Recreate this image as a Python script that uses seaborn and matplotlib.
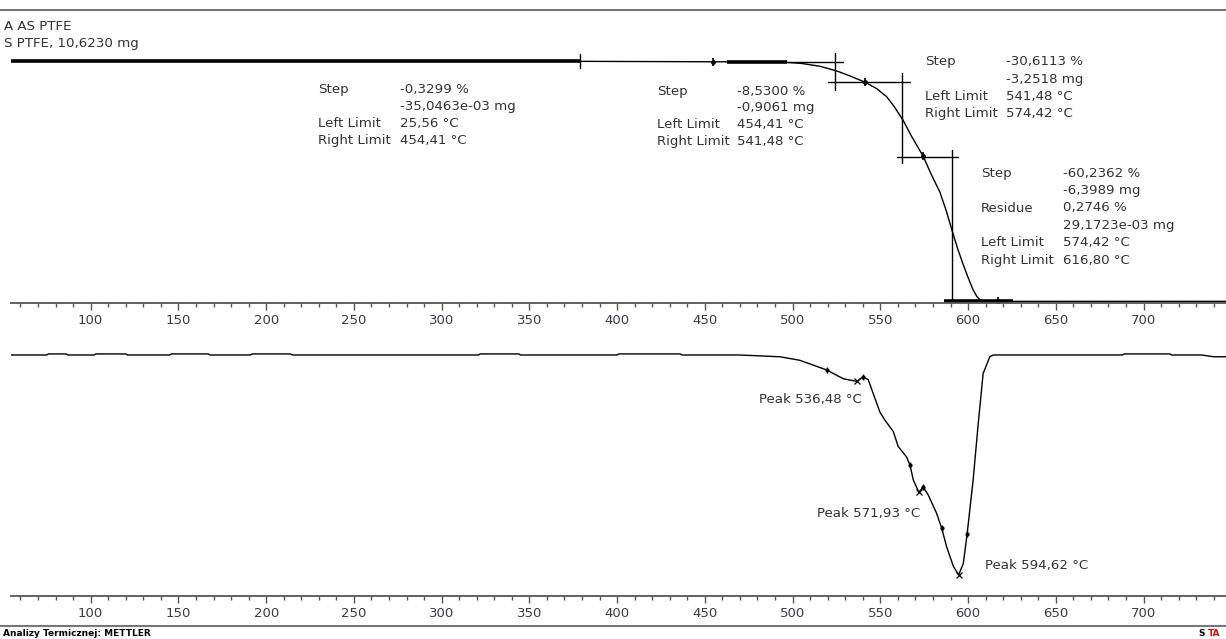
import numpy as np
import pandas as pd
import seaborn as sns
import matplotlib
matplotlib.use("Agg")
import matplotlib.pyplot as plt
from matplotlib.ticker import MultipleLocator

# ---------------- data ----------------
# TGA curve (temperature in degC, mass in %)
tga_temp = [54.6, 150, 250, 378.9, 454.4, 480, 497, 505, 515.6, 525, 532, 541.5, 548,
            553.7, 558, 562.9, 568, 574.4, 579, 584, 587.5, 590.8, 594, 597.1, 600,
            602.8, 605, 606.8, 610, 616.8, 680, 747]
tga_mass = [100.0, 99.95, 99.9, 99.85, 99.67, 99.6, 99.4, 99.0, 97.8, 95.9, 94.0, 91.14, 88.5,
            85.1, 81.0, 75.5, 68.5, 60.51, 53.0, 45.5, 38.0, 29.9, 22.3, 15.8, 10.2,
            5.2, 2.3, 0.9, 0.4, 0.27, 0.27, 0.27]

# DTG curve (temperature in degC, arbitrary derivative units)
dtg_temp = [54.6, 75, 76, 86, 87, 102, 103, 120, 121, 145, 146, 167, 168, 191, 192, 214, 215,
            321, 322, 344, 345, 400, 401, 436, 437, 469.9, 492.7, 504.1, 519.4, 528.9,
            536.48, 540.3, 543.1, 546.0, 549.8, 552.6, 557.4, 560.2, 565.0, 566.9, 568.8,
            571.93, 574.5, 577.3, 582.1, 585.0, 587.8, 591.6, 594.62, 597.3, 599.5, 602.9,
            605.8, 608.6, 612.4, 614.3, 688, 689, 715, 716, 733, 740, 747]
dtg_val = [0.0, 0.0, 0.012, 0.012, 0.0, 0.0, 0.012, 0.012, 0.0, 0.0, 0.012, 0.012, 0.0, 0.0,
           0.012, 0.012, 0.0, 0.0, 0.012, 0.012, 0.0, 0.0, 0.012, 0.012, 0.0, 0.0, -0.02,
           -0.06, -0.17, -0.27, -0.30, -0.25, -0.28, -0.44, -0.65, -0.74, -0.87, -1.04, -1.16,
           -1.25, -1.42, -1.56, -1.50, -1.59, -1.80, -1.97, -2.18, -2.40, -2.50, -2.37, -2.03,
           -1.42, -0.78, -0.21, -0.02, 0.0, 0.0, 0.012, 0.012, 0.0, 0.0, -0.02, -0.02]

# TGA step evaluation markers
step_temp = [454.41, 541.48, 574.42, 616.80]
step_mass = [99.67, 91.14, 60.51, 0.27]

# DTG peaks and integration markers
peak_temp = [536.48, 571.93, 594.62]
peak_val = [-0.30, -1.56, -2.50]
peak_labels = ["Peak 536,48 \u00b0C", "Peak 571,93 \u00b0C", "Peak 594,62 \u00b0C"]
limit_temp = [519.4, 540.3, 566.9, 574.5, 585.0, 599.5]
limit_val = [-0.17, -0.25, -1.25, -1.50, -1.97, -2.03]

# tangent construction segments on TGA: (x0, x1, y0, y1)
thick_segments = [(54.6, 378.9, 100.0, 100.0), (462.6, 496.8, 99.7, 99.7),
                  (586.3, 625.6, 0.3, 0.3)]
thin_segments = [(496.8, 528.7, 99.7, 99.7), (378.9, 378.9, 97.1, 102.9),
                 (524.2, 524.2, 88.0, 103.3), (520.2, 566.9, 91.3, 91.3),
                 (562.3, 562.3, 57.7, 95.0), (559.5, 594.3, 60.2, 60.2),
                 (590.9, 590.9, -0.4, 63.0)]

# step result texts
step_blocks = [
    [("Step", "-0,3299 %"), ("", "-35,0463e-03 mg"), ("Left Limit", "25,56 \u00b0C"),
     ("Right Limit", "454,41 \u00b0C")],
    [("Step", "-8,5300 %"), ("", "-0,9061 mg"), ("Left Limit", "454,41 \u00b0C"),
     ("Right Limit", "541,48 \u00b0C")],
    [("Step", "-30,6113 %"), ("", "-3,2518 mg"), ("Left Limit", "541,48 \u00b0C"),
     ("Right Limit", "574,42 \u00b0C")],
    [("Step", "-60,2362 %"), ("", "-6,3989 mg"), ("Residue", "0,2746 %"),
     ("", "29,1723e-03 mg"), ("Left Limit", "574,42 \u00b0C"), ("Right Limit", "616,80 \u00b0C")],
]

title_lines = ["A AS PTFE", "S PTFE, 10,6230 mg"]
footer_left = "Analizy Termicznej: METTLER"

# ---------------- figure ----------------
sns.set_theme(style="white")
plt.rcParams['font.family'] = ['DejaVu Sans']

W, H = 1226, 639
fig = plt.figure(figsize=(W / 100, H / 100), dpi=100)

def fy(py):
    return 1 - py / H

def fx(px):
    return px / W

XMIN, XMAX = 54.6, 747.0
AXC = "#555555"
TXT = "#333333"
FS = 9.6

# TGA axes: bottom at y=303 px, top at y=20 px
ax1 = fig.add_axes([fx(11), fy(303), 1 - fx(11), (303 - 20) / H])
# DTG axes: bottom at y=596 px, top at y=330 px
ax2 = fig.add_axes([fx(11), fy(596), 1 - fx(11), (596 - 330) / H])

for ax in (ax1, ax2):
    ax.set_facecolor("none")
    ax.set_xlim(XMIN, XMAX)
    for s in ("top", "left", "right"):
        ax.spines[s].set_visible(False)
    ax.spines["bottom"].set_color(AXC)
    ax.spines["bottom"].set_linewidth(1.3)
    ax.xaxis.set_major_locator(MultipleLocator(50))
    ax.xaxis.set_minor_locator(MultipleLocator(10))
    ax.tick_params(axis="x", which="major", direction="out", length=5, width=1,
                   color=AXC, labelsize=9.5, labelcolor="#3a3a4a", pad=3, bottom=True)
    ax.tick_params(axis="x", which="minor", direction="out", length=3, width=1,
                   color=AXC, bottom=True)
    ax.set_yticks([])

ax1.set_ylim(-0.41, 117.0)
ax2.set_ylim(-2.739, 0.284)

tga_df = pd.DataFrame({"T": tga_temp, "m": tga_mass})
dtg_df = pd.DataFrame({"T": dtg_temp, "d": dtg_val})

sns.lineplot(data=tga_df, x="T", y="m", ax=ax1, color="black", lw=1.0, sort=False)
sns.lineplot(data=dtg_df, x="T", y="d", ax=ax2, color="black", lw=1.0, sort=False)
for ax in (ax1, ax2):
    ax.set_xlabel("")
    ax.set_ylabel("")

for x0, x1, y0, y1 in thick_segments:
    ax1.plot([x0, x1], [y0, y1], color="black", lw=2.6, solid_capstyle="butt")
for x0, x1, y0, y1 in thin_segments:
    ax1.plot([x0, x1], [y0, y1], color="black", lw=1.0)

ax1.plot(step_temp, step_mass, ls="none", marker="|", ms=6, mew=1.2, color="black")
ax1.plot(step_temp, step_mass, ls="none", marker="o", ms=2.5, color="black")

ax2.plot(peak_temp, peak_val, ls="none", marker="x", ms=4, mew=0.9, color="black")
ax2.plot(limit_temp, limit_val, ls="none", marker="|", ms=5, mew=1.0, color="black")
ax2.plot(limit_temp, limit_val, ls="none", marker="o", ms=2, color="black")

# step texts (pixel positions of label col, value col, first-line y, line step)
block_pos = [(318, 400, 90, 16.8), (657, 737, 91, 16.8), (925, 1006, 62, 17.3),
             (981, 1063, 173, 17.5)]
for block, (lx, vx, y0, dy) in zip(step_blocks, block_pos):
    for i, (lab, val) in enumerate(block):
        y = y0 + i * dy
        if lab:
            fig.text(fx(lx), fy(y), lab, fontsize=FS, color=TXT, va="center", ha="left")
        fig.text(fx(vx), fy(y), val, fontsize=FS, color=TXT, va="center", ha="left")

# peak labels
peak_pos = [(862, 399, "right"), (920, 514, "right"), (985, 566, "left")]
for lab, (px, py, ha) in zip(peak_labels, peak_pos):
    fig.text(fx(px), fy(py), lab, fontsize=FS, color=TXT, va="center", ha=ha)

# header
fig.add_artist(plt.Line2D([0, 1], [fy(10), fy(10)], color="#777777", lw=1.5))
fig.text(fx(4), fy(27), title_lines[0], fontsize=FS, color=TXT, va="center", ha="left")
fig.text(fx(4), fy(43), title_lines[1], fontsize=FS, color=TXT, va="center", ha="left")

# footer
fig.add_artist(plt.Line2D([0, 1], [fy(626), fy(626)], color="#777777", lw=1.5))
fig.text(fx(3), fy(633), footer_left, fontsize=6.5, color="black", weight="bold",
         va="center", ha="left")
fig.text(fx(1198), fy(633), "S", fontsize=6.5, color="black", weight="bold",
         va="center", ha="left")
fig.text(fx(1208), fy(633), "TA", fontsize=6.5, color="#cc1111", weight="bold",
         va="center", ha="left")

fig.savefig("out.png", dpi=100)
